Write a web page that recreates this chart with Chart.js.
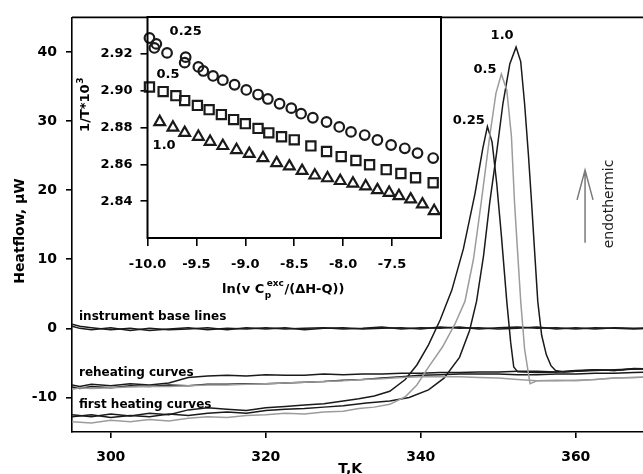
<!DOCTYPE html>
<html>
<head>
<meta charset="utf-8">
<script src="https://cdn.jsdelivr.net/npm/chart.js@4.4.1/dist/chart.umd.min.js"></script>
<style>
  html, body { margin: 0; padding: 0; background: #fff; overflow: hidden; }
  #wrap { position: relative; width: 643px; height: 474px; overflow: hidden; }
  #main { position: absolute; left: 0; top: 0; width: 654px; height: 474px; }
  #inset { position: absolute; left: 50px; top: 0; width: 410px; height: 310px; }
</style>
</head>
<body>
<div id="wrap">
  <canvas id="main" width="654" height="474"></canvas>
  <canvas id="inset" width="410" height="310"></canvas>
</div>
<script>
// main plot: heat flow vs temperature
const mainXTicks = [300, 320, 340, 360];
const mainYTicks = [-10, 0, 10, 20, 30, 40];

const gridT = [295, 296, 297.5, 300, 302.5, 305, 307.5, 310, 312.5, 315, 317.5, 320, 322.5, 325, 327.5, 330,
  332.5, 335, 337.5, 340, 342.5, 345, 347.5, 350, 352.5, 355, 357.5, 360, 362.5, 365, 367.5, 370];

const base1 = [0.6, 0.3, 0.1, -0.2, 0.0, -0.3, -0.1, 0.1, -0.2, 0.0, -0.1, 0.1, -0.1, 0.0, 0.1, -0.1,
  0.0, 0.2, -0.1, 0.1, 0.0, 0.2, -0.1, 0.1, 0.2, 0.0, 0.1, -0.1, 0.1, 0.0, -0.1, 0.0];
const base2 = [0.3, 0.0, -0.2, 0.1, -0.3, 0.0, -0.2, -0.1, 0.1, -0.2, 0.1, -0.1, 0.1, -0.2, 0.0, 0.1,
  -0.1, 0.0, 0.1, -0.1, 0.2, 0.0, 0.1, -0.1, 0.0, 0.2, -0.1, 0.1, -0.1, 0.1, 0.0, 0.1];

const reheat1 = [-8.2, -8.4, -8.1, -8.3, -8.0, -8.2, -7.9, -7.1, -6.9, -6.8, -6.9, -6.7, -6.8, -6.8, -6.6, -6.7,
  -6.6, -6.6, -6.5, -6.5, -6.4, -6.4, -6.3, -6.3, -6.2, -6.2, -6.3, -6.1, -6.0, -6.1, -5.8, -5.9];
const reheat2 = [-8.5, -8.7, -8.4, -8.6, -8.3, -8.4, -8.2, -8.3, -8.1, -8.1, -8.0, -8.0, -7.9, -7.8, -7.7, -7.5,
  -7.4, -7.2, -7.0, -6.8, -6.7, -6.6, -6.6, -6.6, -6.7, -6.7, -6.6, -6.6, -6.5, -6.5, -6.4, -6.3];
const reheat3 = [-8.8, -8.6, -8.7, -8.6, -8.5, -8.4, -8.4, -8.3, -8.2, -8.2, -8.1, -8.0, -7.9, -7.8, -7.7, -7.6,
  -7.4, -7.3, -7.1, -7.0, -7.0, -7.0, -7.1, -7.2, -7.4, -7.6, -7.6, -7.5, -7.4, -7.2, -7.1, -7.0];

const heat025T = [295, 297.5, 300, 302.5, 305, 307.5, 310, 312.5, 315, 317.5, 320, 322.5, 325, 327.5, 330, 332,
  334, 336, 338, 339.5, 341, 342.5, 344, 345.5, 347, 348, 348.6, 349.2, 349.8, 350.4, 351.1, 351.6, 352, 352.5,
  355, 357.5, 360, 362.5, 365, 367.5, 370];
const heat025Q = [-12.5, -12.8, -12.4, -12.7, -12.3, -12.5, -11.8, -11.5, -11.7, -11.9, -11.5, -11.3, -11.1, -10.9, -10.5, -10.2,
  -9.8, -9.1, -7.4, -5.3, -2.4, 1.2, 5.5, 11.5, 19.5, 26.0, 29.2, 27.0, 21.0, 13.5, 3.9, -2.0, -5.6, -6.3,
  -6.4, -6.3, -6.2, -6.1, -6.0, -5.9, -5.8];

const heat05T = [295, 297.5, 300, 302.5, 305, 307.5, 310, 312.5, 315, 317.5, 320, 322.5, 325, 327.5, 330, 332,
  334, 336, 338, 339.5, 341, 342.8, 344.4, 345.7, 346.8, 347.8, 348.9, 349.7, 350.4, 351.1, 351.7, 352.1, 352.5,
  352.9, 353.4, 354.1, 355, 357.5, 360, 362.5, 365, 367.5, 370];
const heat05Q = [-13.5, -13.7, -13.3, -13.5, -13.2, -13.4, -13.0, -12.8, -12.9, -12.6, -12.5, -12.3, -12.4, -12.1, -12.0, -11.6,
  -11.4, -11.0, -9.9, -8.2, -5.6, -2.7, 0.6, 3.9, 10.0, 18.2, 27.8, 34.0, 36.8, 34.5, 27.8, 18.2, 11.0,
  3.9, -3.0, -8.0, -7.6, -7.5, -7.6, -7.4, -7.2, -7.1, -7.0];

const heat10T = [295, 297.5, 300, 302.5, 305, 307.5, 310, 312.5, 315, 317.5, 320, 322.5, 325, 327.5, 330, 333,
  336, 338.5, 341, 343, 345, 346.3, 347.2, 348.1, 348.9, 349.8, 350.6, 351.5, 352.3, 352.9, 353.4, 353.9, 354.3,
  354.7, 355.1, 355.6, 356.2, 356.8, 357.4, 358.5, 360, 362.5, 365, 367.5, 370];
const heat10Q = [-12.8, -12.5, -12.9, -12.6, -12.8, -12.4, -12.6, -12.3, -12.1, -12.3, -11.9, -11.7, -11.6, -11.4, -11.2, -10.8,
  -10.5, -10.0, -8.9, -7.2, -4.2, -0.3, 3.9, 10.5, 18.2, 25.5, 32.5, 38.3, 40.7, 38.6, 32.5, 25.0, 18.2,
  11.0, 3.9, -1.0, -3.8, -5.4, -6.1, -6.3, -6.2, -6.0, -6.1, -5.9, -5.8];

// inset: 1/T*10^3 vs ln(v Cp/(dH-Q))
const insetXTicks = [-10, -9.5, -9, -8.5, -8, -7.5];
const insetYTicks = [2.84, 2.86, 2.88, 2.90, 2.92];

const circX = [-9.98, -9.91, -9.93, -9.80, -9.61, -9.62, -9.48, -9.43, -9.33, -9.23, -9.11, -8.99, -8.87, -8.77,
  -8.65, -8.53, -8.43, -8.31, -8.17, -8.04, -7.92, -7.78, -7.65, -7.51, -7.37, -7.24, -7.08];
const circY = [2.9286, 2.9254, 2.9232, 2.9205, 2.9182, 2.9152, 2.9129, 2.9107, 2.908, 2.9057, 2.9032, 2.9004, 2.8979, 2.8955,
  2.8929, 2.8905, 2.8875, 2.8853, 2.883, 2.8803, 2.8776, 2.8759, 2.8732, 2.8705, 2.8687, 2.8661, 2.8634];

const sqX = [-9.98, -9.84, -9.71, -9.62, -9.49, -9.37, -9.245, -9.12, -9.00, -8.87, -8.76, -8.63, -8.50, -8.33,
  -8.17, -8.02, -7.87, -7.73, -7.56, -7.41, -7.26, -7.08];
const sqY = [2.902, 2.8995, 2.8973, 2.8946, 2.892, 2.8897, 2.887, 2.8843, 2.8821, 2.8795, 2.8771, 2.875, 2.8733, 2.870,
  2.867, 2.8642, 2.8621, 2.8598, 2.8571, 2.855, 2.8527, 2.850];

const triX = [-9.875, -9.74, -9.62, -9.48, -9.36, -9.23, -9.09, -8.96, -8.82, -8.68, -8.55, -8.42, -8.29, -8.16,
  -8.03, -7.90, -7.77, -7.65, -7.53, -7.43, -7.31, -7.19, -7.07];
const triY = [2.883, 2.880, 2.8771, 2.875, 2.8723, 2.870, 2.8678, 2.8657, 2.8634, 2.8607, 2.8589, 2.8565, 2.8540, 2.8525,
  2.8510, 2.8496, 2.8481, 2.846, 2.8446, 2.8428, 2.841, 2.8383, 2.8347];

const black = "#1a1a1a";
const grey = "#9c9c9c";
const fontFam = "'DejaVu Sans', sans-serif";

function pts(xs, ys) {
  return xs.map((x, i) => ({ x: x, y: ys[i] }));
}

function curve(xs, ys, color) {
  return { data: pts(xs, ys), borderColor: color, borderWidth: 1.5, pointRadius: 0, tension: 0, fill: false };
}

function text(ctx, str, x, y, size, weight, align) {
  ctx.font = weight + " " + size + "px " + fontFam;
  ctx.textAlign = align || "center";
  ctx.textBaseline = "middle";
  ctx.fillText(str, x, y);
}

const mainText = {
  id: "mainText",
  afterDraw(chart) {
    const ctx = chart.ctx;
    const a = chart.chartArea;
    const sx = chart.scales.x, sy = chart.scales.y;
    const px = v => sx.getPixelForValue(v);
    const py = v => sy.getPixelForValue(v);
    ctx.save();
    ctx.strokeStyle = "#000";
    ctx.lineWidth = 1.6;
    ctx.beginPath();
    ctx.moveTo(a.left, a.top);
    ctx.lineTo(a.right, a.top);
    ctx.stroke();

    ctx.fillStyle = "#000";
    text(ctx, "instrument base lines", px(295.9), py(1.7), 12, "bold", "left");
    text(ctx, "reheating curves", px(295.9), py(-6.4), 12, "bold", "left");
    text(ctx, "first heating curves", px(295.9), py(-11.1), 12, "bold", "left");

    text(ctx, "1.0", px(350.5), py(42.3), 13, "bold");
    text(ctx, "0.5", px(348.3), py(37.4), 13, "bold");
    text(ctx, "0.25", px(346.2), py(30.0), 13, "bold");

    // endothermic arrow
    ctx.strokeStyle = "#7a7a7a";
    ctx.lineWidth = 1.5;
    const ax = px(361.2);
    ctx.beginPath();
    ctx.moveTo(ax, py(12.4));
    ctx.lineTo(ax, py(22.9));
    ctx.moveTo(ax - 8, py(18.6));
    ctx.lineTo(ax, py(22.9));
    ctx.lineTo(ax + 8, py(18.6));
    ctx.stroke();

    ctx.save();
    ctx.translate(px(364.4), py(18.0));
    ctx.rotate(-Math.PI / 2);
    ctx.fillStyle = "#222";
    text(ctx, "endothermic", 0, 0, 14, "normal");
    ctx.restore();

    ctx.save();
    ctx.translate(20, 231);
    ctx.rotate(-Math.PI / 2);
    text(ctx, "Heatflow, \u00b5W", 0, 0, 14, "bold");
    ctx.restore();

    text(ctx, "T,K", px(330.9), 469, 14, "bold");
    ctx.restore();
  }
};

new Chart(document.getElementById("main"), {
  type: "line",
  data: {
    datasets: [
      curve(gridT, reheat3, grey),
      curve(heat05T, heat05Q, grey),
      curve(gridT, base1, black),
      curve(gridT, base2, black),
      curve(gridT, reheat1, black),
      curve(gridT, reheat2, black),
      curve(heat025T, heat025Q, black),
      curve(heat10T, heat10Q, black)
    ]
  },
  options: {
    responsive: false,
    animation: false,
    layout: { padding: { top: 12, left: 0, right: 0.75, bottom: 0 } },
    plugins: { legend: { display: false }, tooltip: { enabled: false } },
    scales: {
      x: {
        type: "linear",
        min: 295,
        max: 370,
        afterBuildTicks: s => { s.ticks = mainXTicks.map(v => ({ value: v })); },
        afterFit: s => { s.height = 42; },
        border: { color: "#000", width: 1.6 },
        grid: { drawOnChartArea: false, drawTicks: true, tickLength: 6, color: "#000", lineWidth: 1.6 },
        ticks: { color: "#000", padding: 11, maxRotation: 0, font: { family: fontFam, size: 14, weight: "bold" } }
      },
      y: {
        type: "linear",
        min: -15,
        max: 45,
        afterBuildTicks: s => { s.ticks = mainYTicks.map(v => ({ value: v })); },
        afterFit: s => { s.width = 72; },
        border: { color: "#000", width: 1.6 },
        grid: { drawOnChartArea: false, drawTicks: true, tickLength: 6, color: "#000", lineWidth: 1.6 },
        ticks: { color: "#000", padding: 9, font: { family: fontFam, size: 14, weight: "bold" } }
      }
    }
  },
  plugins: [mainText]
});

const insetText = {
  id: "insetText",
  beforeDatasetsDraw(chart) {
    const ctx = chart.ctx;
    const a = chart.chartArea;
    ctx.save();
    ctx.fillStyle = "#fff";
    ctx.fillRect(a.left, a.top, a.right - a.left, a.bottom - a.top);
    ctx.restore();
  },
  afterDraw(chart) {
    const ctx = chart.ctx;
    const a = chart.chartArea;
    const sx = chart.scales.x, sy = chart.scales.y;
    ctx.save();
    ctx.strokeStyle = "#000";
    ctx.lineWidth = 2;
    ctx.strokeRect(a.left, a.top, a.right - a.left, a.bottom - a.top);

    ctx.fillStyle = "#000";
    text(ctx, "0.25", sx.getPixelForValue(-9.61), sy.getPixelForValue(2.932), 13, "bold");
    text(ctx, "0.5", sx.getPixelForValue(-9.79), sy.getPixelForValue(2.9085), 13, "bold");
    text(ctx, "1.0", sx.getPixelForValue(-9.83), sy.getPixelForValue(2.870), 13, "bold");

    // x title with sub- and superscript
    const big = "bold 13px " + fontFam, small = "bold 9px " + fontFam;
    ctx.textAlign = "left";
    ctx.textBaseline = "alphabetic";
    let x = a.left + 74.5;
    const yb = 293;
    ctx.font = big;
    ctx.fillText("ln(v C", x, yb);
    x += ctx.measureText("ln(v C").width + 0.5;
    ctx.font = small;
    ctx.fillText("p", x, yb + 5);
    ctx.fillText("exc", x + 2, yb - 7);
    x += ctx.measureText("exc").width + 2.5;
    ctx.font = big;
    ctx.fillText("/(\u0394H-Q))", x, yb);

    // y title
    ctx.save();
    ctx.translate(36, 105);
    ctx.rotate(-Math.PI / 2);
    ctx.font = big;
    const w1 = ctx.measureText("1/T*10").width;
    ctx.font = small;
    const w2 = ctx.measureText("3").width;
    ctx.font = big;
    ctx.textAlign = "left";
    ctx.textBaseline = "middle";
    ctx.fillText("1/T*10", -(w1 + w2) / 2, 0);
    ctx.font = small;
    ctx.fillText("3", -(w1 + w2) / 2 + w1 + 0.5, -5);
    ctx.restore();
    ctx.restore();
  }
};

function marks(xs, ys, style, radius) {
  return {
    data: pts(xs, ys), showLine: false, pointStyle: style, pointRadius: radius,
    pointBorderColor: black, pointBackgroundColor: "rgba(0,0,0,0)", pointBorderWidth: 2.2, clip: false
  };
}

new Chart(document.getElementById("inset"), {
  type: "scatter",
  data: {
    datasets: [
      marks(circX, circY, "circle", 4.8),
      marks(sqX, sqY, "rect", 6.5),
      marks(triX, triY, "triangle", 6.2)
    ]
  },
  options: {
    responsive: false,
    animation: false,
    layout: { padding: { top: 17, left: 0, right: 19, bottom: 0 } },
    plugins: { legend: { display: false }, tooltip: { enabled: false } },
    scales: {
      x: {
        type: "linear",
        min: -10,
        max: -7,
        afterBuildTicks: s => { s.ticks = insetXTicks.map(v => ({ value: v })); },
        afterFit: s => { s.height = 72; },
        border: { display: false },
        grid: { drawOnChartArea: false, drawTicks: true, tickLength: 8, color: "#000", lineWidth: 1.6 },
        ticks: { color: "#000", padding: 11, maxRotation: 0, callback: v => v.toFixed(1),
          font: { family: fontFam, size: 13, weight: "bold" } }
      },
      y: {
        type: "linear",
        min: 2.82,
        max: 2.94,
        afterBuildTicks: s => { s.ticks = insetYTicks.map(v => ({ value: v })); },
        afterFit: s => { s.width = 97.5; },
        border: { display: false },
        grid: { drawOnChartArea: false, drawTicks: true, tickLength: 7, color: "#000", lineWidth: 1.6 },
        ticks: { color: "#000", padding: 8, callback: v => v.toFixed(2),
          font: { family: fontFam, size: 13, weight: "bold" } }
      }
    }
  },
  plugins: [insetText]
});
</script>
</body>
</html>
